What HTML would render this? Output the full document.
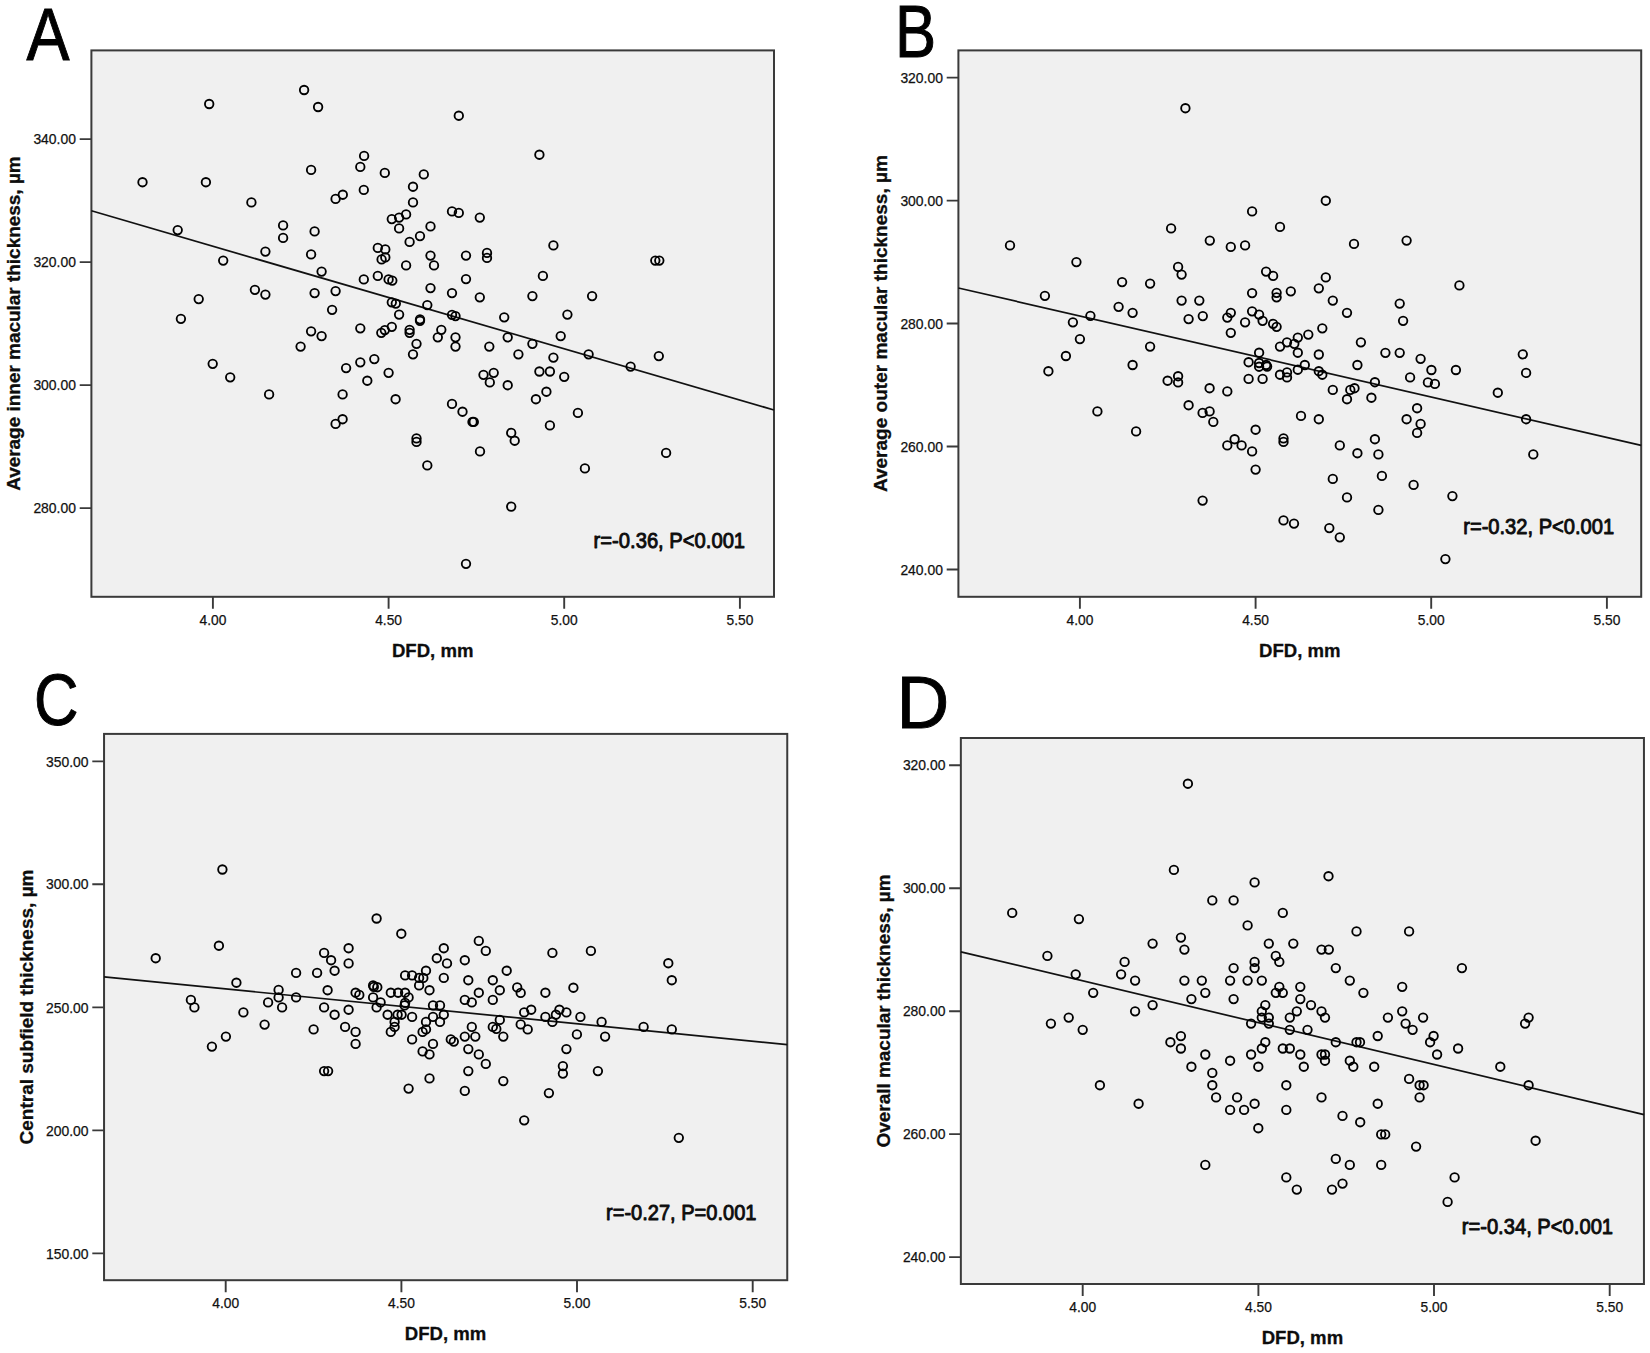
<!DOCTYPE html>
<html lang="en">
<head>
<meta charset="utf-8">
<title>DFD vs macular thickness scatter plots</title>
<style>
html,body{margin:0;padding:0;background:#fff;}
body{width:1650px;height:1353px;overflow:hidden;}
svg{display:block;}
text{font-family:"Liberation Sans", Arial, Helvetica, sans-serif;fill:#1a1a1a;}
.tk{font-size:14.6px;fill:#111;stroke:#111;stroke-width:0.25px;}
.ax{font-size:19.2px;font-weight:bold;fill:#0d0d0d;stroke:#0d0d0d;stroke-width:0.3px;}
.rr{font-size:22.6px;fill:#0d0d0d;stroke:#0d0d0d;stroke-width:0.95px;stroke-linejoin:round;}
.lt{font-size:100px;fill:#000;stroke:#000;stroke-width:0.9px;}
.pt circle{fill:none;stroke:#000;stroke-width:1.85px;}
.fr{fill:#f0f0f0;stroke:#3a3a3a;stroke-width:2px;}
.tl{stroke:#3a3a3a;stroke-width:1.9px;fill:none;}
.fit{stroke:#111;stroke-width:1.7px;fill:none;}
</style>
</head>
<body>
<svg width="1650" height="1353" viewBox="0 0 1650 1353">
<rect x="0" y="0" width="1650" height="1353" fill="#ffffff"/>

<g id="panelA">
<rect class="fr" x="91.4" y="50.4" width="682.6" height="546.4"/>
<path class="tl" d="M212.9 596.8V608.8M388.6 596.8V608.8M564.2 596.8V608.8M739.9 596.8V608.8M79.7 139.1H91.4M79.7 262.1H91.4M79.7 385.1H91.4M79.7 508.1H91.4"/>
<text class="tk" x="212.9" y="624.6" text-anchor="middle" textLength="26.8" lengthAdjust="spacingAndGlyphs">4.00</text>
<text class="tk" x="388.6" y="624.6" text-anchor="middle" textLength="26.8" lengthAdjust="spacingAndGlyphs">4.50</text>
<text class="tk" x="564.2" y="624.6" text-anchor="middle" textLength="26.8" lengthAdjust="spacingAndGlyphs">5.00</text>
<text class="tk" x="739.9" y="624.6" text-anchor="middle" textLength="26.8" lengthAdjust="spacingAndGlyphs">5.50</text>
<text class="tk" x="75.9" y="144.2" text-anchor="end" textLength="42.5" lengthAdjust="spacingAndGlyphs">340.00</text>
<text class="tk" x="75.9" y="267.2" text-anchor="end" textLength="42.5" lengthAdjust="spacingAndGlyphs">320.00</text>
<text class="tk" x="75.9" y="390.2" text-anchor="end" textLength="42.5" lengthAdjust="spacingAndGlyphs">300.00</text>
<text class="tk" x="75.9" y="513.2" text-anchor="end" textLength="42.5" lengthAdjust="spacingAndGlyphs">280.00</text>
<text class="ax" x="432.7" y="656.6" text-anchor="middle" textLength="81.5" lengthAdjust="spacingAndGlyphs">DFD, mm</text>
<text class="ax" transform="translate(20.4 323.6) rotate(-90)" text-anchor="middle" textLength="334.5" lengthAdjust="spacingAndGlyphs">Average inner macular thickness, µm</text>
<line class="fit" x1="91.4" y1="210.8" x2="774.0" y2="410.0"/>
<g class="pt">
<circle cx="304.1" cy="90.0" r="4.25"/><circle cx="209.2" cy="104.0" r="4.25"/><circle cx="318.1" cy="107.0" r="4.25"/><circle cx="458.8" cy="115.7" r="4.25"/><circle cx="364.1" cy="155.9" r="4.25"/><circle cx="360.3" cy="166.9" r="4.25"/><circle cx="311.1" cy="169.9" r="4.25"/><circle cx="384.8" cy="172.9" r="4.25"/><circle cx="423.8" cy="174.4" r="4.25"/><circle cx="142.5" cy="182.2" r="4.25"/><circle cx="205.9" cy="182.2" r="4.25"/><circle cx="413.0" cy="186.7" r="4.25"/><circle cx="363.8" cy="189.9" r="4.25"/><circle cx="342.8" cy="194.7" r="4.25"/><circle cx="335.6" cy="198.9" r="4.25"/><circle cx="251.4" cy="202.4" r="4.25"/><circle cx="413.0" cy="202.4" r="4.25"/><circle cx="452.0" cy="211.4" r="4.25"/><circle cx="458.8" cy="212.9" r="4.25"/><circle cx="406.1" cy="214.4" r="4.25"/><circle cx="399.1" cy="217.6" r="4.25"/><circle cx="391.8" cy="219.1" r="4.25"/><circle cx="479.8" cy="217.6" r="4.25"/><circle cx="283.1" cy="225.4" r="4.25"/><circle cx="430.5" cy="226.4" r="4.25"/><circle cx="399.1" cy="228.4" r="4.25"/><circle cx="314.6" cy="231.4" r="4.25"/><circle cx="177.7" cy="230.1" r="4.25"/><circle cx="420.0" cy="236.1" r="4.25"/><circle cx="283.1" cy="237.9" r="4.25"/><circle cx="409.6" cy="241.9" r="4.25"/><circle cx="377.8" cy="247.9" r="4.25"/><circle cx="385.3" cy="249.4" r="4.25"/><circle cx="265.4" cy="251.6" r="4.25"/><circle cx="311.1" cy="254.4" r="4.25"/><circle cx="487.0" cy="252.9" r="4.25"/><circle cx="430.5" cy="255.6" r="4.25"/><circle cx="466.0" cy="255.6" r="4.25"/><circle cx="385.3" cy="257.4" r="4.25"/><circle cx="381.6" cy="259.4" r="4.25"/><circle cx="487.0" cy="257.9" r="4.25"/><circle cx="223.2" cy="260.6" r="4.25"/><circle cx="406.1" cy="265.4" r="4.25"/><circle cx="434.0" cy="265.4" r="4.25"/><circle cx="321.6" cy="271.6" r="4.25"/><circle cx="377.8" cy="275.9" r="4.25"/><circle cx="363.8" cy="279.4" r="4.25"/><circle cx="388.6" cy="279.4" r="4.25"/><circle cx="392.3" cy="280.6" r="4.25"/><circle cx="466.0" cy="279.1" r="4.25"/><circle cx="430.5" cy="288.1" r="4.25"/><circle cx="254.9" cy="289.8" r="4.25"/><circle cx="335.6" cy="291.1" r="4.25"/><circle cx="314.6" cy="293.1" r="4.25"/><circle cx="452.0" cy="293.1" r="4.25"/><circle cx="265.4" cy="294.6" r="4.25"/><circle cx="479.8" cy="297.3" r="4.25"/><circle cx="198.7" cy="299.1" r="4.25"/><circle cx="391.8" cy="302.3" r="4.25"/><circle cx="395.8" cy="303.6" r="4.25"/><circle cx="427.3" cy="305.1" r="4.25"/><circle cx="332.1" cy="309.8" r="4.25"/><circle cx="399.1" cy="314.6" r="4.25"/><circle cx="452.0" cy="314.8" r="4.25"/><circle cx="455.5" cy="316.1" r="4.25"/><circle cx="180.9" cy="318.8" r="4.25"/><circle cx="420.0" cy="319.3" r="4.25"/><circle cx="420.0" cy="320.8" r="4.25"/><circle cx="360.3" cy="328.3" r="4.25"/><circle cx="391.8" cy="326.8" r="4.25"/><circle cx="384.8" cy="330.1" r="4.25"/><circle cx="381.3" cy="332.8" r="4.25"/><circle cx="409.6" cy="329.8" r="4.25"/><circle cx="409.6" cy="332.8" r="4.25"/><circle cx="441.3" cy="329.8" r="4.25"/><circle cx="311.1" cy="331.3" r="4.25"/><circle cx="321.6" cy="336.1" r="4.25"/><circle cx="437.8" cy="337.3" r="4.25"/><circle cx="455.5" cy="337.3" r="4.25"/><circle cx="416.5" cy="343.8" r="4.25"/><circle cx="300.6" cy="346.6" r="4.25"/><circle cx="455.5" cy="346.6" r="4.25"/><circle cx="489.3" cy="346.6" r="4.25"/><circle cx="413.0" cy="354.3" r="4.25"/><circle cx="374.3" cy="359.1" r="4.25"/><circle cx="360.3" cy="362.3" r="4.25"/><circle cx="212.7" cy="363.8" r="4.25"/><circle cx="346.1" cy="368.1" r="4.25"/><circle cx="388.6" cy="372.8" r="4.25"/><circle cx="230.2" cy="377.3" r="4.25"/><circle cx="483.5" cy="374.8" r="4.25"/><circle cx="539.4" cy="154.7" r="4.25"/><circle cx="553.4" cy="245.4" r="4.25"/><circle cx="655.3" cy="260.6" r="4.25"/><circle cx="659.3" cy="260.6" r="4.25"/><circle cx="542.9" cy="275.9" r="4.25"/><circle cx="532.4" cy="296.1" r="4.25"/><circle cx="592.1" cy="296.1" r="4.25"/><circle cx="567.4" cy="314.6" r="4.25"/><circle cx="504.2" cy="317.3" r="4.25"/><circle cx="560.7" cy="336.1" r="4.25"/><circle cx="507.7" cy="337.3" r="4.25"/><circle cx="532.4" cy="343.8" r="4.25"/><circle cx="588.6" cy="354.3" r="4.25"/><circle cx="518.4" cy="354.3" r="4.25"/><circle cx="658.8" cy="356.1" r="4.25"/><circle cx="553.4" cy="357.6" r="4.25"/><circle cx="630.6" cy="366.6" r="4.25"/><circle cx="493.7" cy="372.8" r="4.25"/><circle cx="539.4" cy="371.5" r="4.25"/><circle cx="549.9" cy="371.5" r="4.25"/><circle cx="564.2" cy="376.8" r="4.25"/><circle cx="367.3" cy="380.7" r="4.25"/><circle cx="489.8" cy="382.4" r="4.25"/><circle cx="269.1" cy="394.4" r="4.25"/><circle cx="342.6" cy="394.4" r="4.25"/><circle cx="395.6" cy="399.2" r="4.25"/><circle cx="452.0" cy="403.9" r="4.25"/><circle cx="462.5" cy="411.7" r="4.25"/><circle cx="342.6" cy="419.2" r="4.25"/><circle cx="335.6" cy="423.9" r="4.25"/><circle cx="472.5" cy="421.9" r="4.25"/><circle cx="473.8" cy="421.9" r="4.25"/><circle cx="416.5" cy="438.4" r="4.25"/><circle cx="416.5" cy="441.9" r="4.25"/><circle cx="480.0" cy="451.4" r="4.25"/><circle cx="427.3" cy="465.4" r="4.25"/><circle cx="466.0" cy="563.8" r="4.25"/><circle cx="507.7" cy="385.2" r="4.25"/><circle cx="546.4" cy="391.7" r="4.25"/><circle cx="535.9" cy="399.2" r="4.25"/><circle cx="577.9" cy="412.9" r="4.25"/><circle cx="549.9" cy="425.4" r="4.25"/><circle cx="511.2" cy="432.9" r="4.25"/><circle cx="514.7" cy="440.7" r="4.25"/><circle cx="666.1" cy="452.9" r="4.25"/><circle cx="584.9" cy="468.4" r="4.25"/><circle cx="511.2" cy="506.6" r="4.25"/>
</g>
<text class="rr" x="593.6" y="547.5" textLength="151.5" lengthAdjust="spacingAndGlyphs">r=-0.36, P&lt;0.001</text>
<text class="lt" id="letA" transform="translate(26.4 60.0) scale(0.645 0.746)" vector-effect="non-scaling-stroke">A</text>
</g>
<g id="panelB">
<rect class="fr" x="958.4" y="50.4" width="682.8" height="546.4"/>
<path class="tl" d="M1079.9 596.8V608.8M1255.6 596.8V608.8M1431.2 596.8V608.8M1606.9 596.8V608.8M946.7 77.6H958.4M946.7 200.6H958.4M946.7 323.5H958.4M946.7 446.5H958.4M946.7 569.5H958.4"/>
<text class="tk" x="1079.9" y="624.6" text-anchor="middle" textLength="26.8" lengthAdjust="spacingAndGlyphs">4.00</text>
<text class="tk" x="1255.6" y="624.6" text-anchor="middle" textLength="26.8" lengthAdjust="spacingAndGlyphs">4.50</text>
<text class="tk" x="1431.2" y="624.6" text-anchor="middle" textLength="26.8" lengthAdjust="spacingAndGlyphs">5.00</text>
<text class="tk" x="1606.9" y="624.6" text-anchor="middle" textLength="26.8" lengthAdjust="spacingAndGlyphs">5.50</text>
<text class="tk" x="942.9" y="82.7" text-anchor="end" textLength="42.5" lengthAdjust="spacingAndGlyphs">320.00</text>
<text class="tk" x="942.9" y="205.7" text-anchor="end" textLength="42.5" lengthAdjust="spacingAndGlyphs">300.00</text>
<text class="tk" x="942.9" y="328.6" text-anchor="end" textLength="42.5" lengthAdjust="spacingAndGlyphs">280.00</text>
<text class="tk" x="942.9" y="451.6" text-anchor="end" textLength="42.5" lengthAdjust="spacingAndGlyphs">260.00</text>
<text class="tk" x="942.9" y="574.6" text-anchor="end" textLength="42.5" lengthAdjust="spacingAndGlyphs">240.00</text>
<text class="ax" x="1299.8" y="656.6" text-anchor="middle" textLength="81.5" lengthAdjust="spacingAndGlyphs">DFD, mm</text>
<text class="ax" transform="translate(887.4 323.6) rotate(-90)" text-anchor="middle" textLength="337.0" lengthAdjust="spacingAndGlyphs">Average outer macular thickness, µm</text>
<line class="fit" x1="958.4" y1="288.0" x2="1641.2" y2="445.3"/>
<g class="pt">
<circle cx="1185.4" cy="108.2" r="4.25"/><circle cx="1325.8" cy="200.7" r="4.25"/><circle cx="1252.1" cy="211.4" r="4.25"/><circle cx="1280.0" cy="226.9" r="4.25"/><circle cx="1171.1" cy="228.4" r="4.25"/><circle cx="1209.8" cy="240.6" r="4.25"/><circle cx="1010.0" cy="245.4" r="4.25"/><circle cx="1245.1" cy="245.4" r="4.25"/><circle cx="1230.8" cy="246.9" r="4.25"/><circle cx="1354.0" cy="243.9" r="4.25"/><circle cx="1076.4" cy="262.1" r="4.25"/><circle cx="1178.1" cy="266.9" r="4.25"/><circle cx="1181.6" cy="274.6" r="4.25"/><circle cx="1266.1" cy="271.6" r="4.25"/><circle cx="1273.1" cy="275.9" r="4.25"/><circle cx="1325.8" cy="277.4" r="4.25"/><circle cx="1122.1" cy="282.1" r="4.25"/><circle cx="1150.1" cy="283.6" r="4.25"/><circle cx="1318.8" cy="288.3" r="4.25"/><circle cx="1290.8" cy="291.3" r="4.25"/><circle cx="1252.1" cy="293.1" r="4.25"/><circle cx="1276.6" cy="292.8" r="4.25"/><circle cx="1276.6" cy="297.3" r="4.25"/><circle cx="1044.9" cy="295.8" r="4.25"/><circle cx="1181.6" cy="300.6" r="4.25"/><circle cx="1199.3" cy="300.6" r="4.25"/><circle cx="1332.8" cy="300.6" r="4.25"/><circle cx="1118.6" cy="306.8" r="4.25"/><circle cx="1252.1" cy="311.3" r="4.25"/><circle cx="1132.6" cy="312.8" r="4.25"/><circle cx="1230.8" cy="312.8" r="4.25"/><circle cx="1347.0" cy="312.8" r="4.25"/><circle cx="1259.1" cy="314.6" r="4.25"/><circle cx="1090.4" cy="315.8" r="4.25"/><circle cx="1202.8" cy="316.1" r="4.25"/><circle cx="1227.3" cy="317.6" r="4.25"/><circle cx="1188.6" cy="319.1" r="4.25"/><circle cx="1262.6" cy="320.8" r="4.25"/><circle cx="1072.9" cy="322.3" r="4.25"/><circle cx="1245.1" cy="322.3" r="4.25"/><circle cx="1273.1" cy="323.8" r="4.25"/><circle cx="1276.6" cy="326.8" r="4.25"/><circle cx="1322.3" cy="328.3" r="4.25"/><circle cx="1230.8" cy="332.8" r="4.25"/><circle cx="1308.3" cy="334.6" r="4.25"/><circle cx="1297.8" cy="337.6" r="4.25"/><circle cx="1079.9" cy="339.1" r="4.25"/><circle cx="1287.0" cy="342.3" r="4.25"/><circle cx="1294.3" cy="343.8" r="4.25"/><circle cx="1280.0" cy="346.6" r="4.25"/><circle cx="1150.1" cy="346.6" r="4.25"/><circle cx="1406.6" cy="240.6" r="4.25"/><circle cx="1459.4" cy="285.4" r="4.25"/><circle cx="1399.7" cy="303.6" r="4.25"/><circle cx="1403.1" cy="320.8" r="4.25"/><circle cx="1360.9" cy="342.3" r="4.25"/><circle cx="1385.4" cy="352.8" r="4.25"/><circle cx="1399.7" cy="352.8" r="4.25"/><circle cx="1522.8" cy="354.3" r="4.25"/><circle cx="1420.6" cy="358.8" r="4.25"/><circle cx="1259.1" cy="352.7" r="4.25"/><circle cx="1297.8" cy="352.7" r="4.25"/><circle cx="1318.8" cy="354.5" r="4.25"/><circle cx="1065.9" cy="356.0" r="4.25"/><circle cx="1248.6" cy="362.2" r="4.25"/><circle cx="1259.1" cy="363.0" r="4.25"/><circle cx="1259.1" cy="366.7" r="4.25"/><circle cx="1266.1" cy="365.0" r="4.25"/><circle cx="1267.1" cy="366.5" r="4.25"/><circle cx="1304.8" cy="365.0" r="4.25"/><circle cx="1132.6" cy="365.0" r="4.25"/><circle cx="1297.8" cy="369.7" r="4.25"/><circle cx="1048.4" cy="371.2" r="4.25"/><circle cx="1318.8" cy="371.2" r="4.25"/><circle cx="1322.3" cy="374.7" r="4.25"/><circle cx="1287.0" cy="372.4" r="4.25"/><circle cx="1280.0" cy="374.7" r="4.25"/><circle cx="1287.0" cy="377.4" r="4.25"/><circle cx="1178.1" cy="376.2" r="4.25"/><circle cx="1248.6" cy="378.9" r="4.25"/><circle cx="1262.6" cy="378.9" r="4.25"/><circle cx="1167.6" cy="380.7" r="4.25"/><circle cx="1178.1" cy="382.4" r="4.25"/><circle cx="1209.6" cy="388.2" r="4.25"/><circle cx="1227.3" cy="391.4" r="4.25"/><circle cx="1332.8" cy="389.9" r="4.25"/><circle cx="1350.3" cy="389.9" r="4.25"/><circle cx="1354.5" cy="388.2" r="4.25"/><circle cx="1347.0" cy="399.2" r="4.25"/><circle cx="1188.6" cy="405.2" r="4.25"/><circle cx="1209.6" cy="411.4" r="4.25"/><circle cx="1202.6" cy="412.9" r="4.25"/><circle cx="1097.4" cy="411.4" r="4.25"/><circle cx="1301.0" cy="415.9" r="4.25"/><circle cx="1318.8" cy="419.2" r="4.25"/><circle cx="1213.3" cy="421.9" r="4.25"/><circle cx="1255.6" cy="429.7" r="4.25"/><circle cx="1136.1" cy="431.4" r="4.25"/><circle cx="1234.6" cy="439.2" r="4.25"/><circle cx="1283.5" cy="438.4" r="4.25"/><circle cx="1283.5" cy="441.9" r="4.25"/><circle cx="1227.3" cy="445.4" r="4.25"/><circle cx="1241.6" cy="445.4" r="4.25"/><circle cx="1339.8" cy="445.4" r="4.25"/><circle cx="1252.1" cy="451.4" r="4.25"/><circle cx="1255.6" cy="469.6" r="4.25"/><circle cx="1332.8" cy="478.9" r="4.25"/><circle cx="1347.0" cy="497.4" r="4.25"/><circle cx="1202.6" cy="500.6" r="4.25"/><circle cx="1283.5" cy="520.4" r="4.25"/><circle cx="1294.0" cy="523.6" r="4.25"/><circle cx="1329.3" cy="528.1" r="4.25"/><circle cx="1339.8" cy="537.3" r="4.25"/><circle cx="1357.4" cy="365.0" r="4.25"/><circle cx="1431.4" cy="370.0" r="4.25"/><circle cx="1455.9" cy="370.0" r="4.25"/><circle cx="1526.1" cy="372.9" r="4.25"/><circle cx="1410.1" cy="377.4" r="4.25"/><circle cx="1374.9" cy="382.2" r="4.25"/><circle cx="1427.9" cy="382.4" r="4.25"/><circle cx="1434.9" cy="383.9" r="4.25"/><circle cx="1497.8" cy="392.7" r="4.25"/><circle cx="1371.4" cy="397.7" r="4.25"/><circle cx="1417.1" cy="408.2" r="4.25"/><circle cx="1406.6" cy="419.2" r="4.25"/><circle cx="1526.1" cy="419.2" r="4.25"/><circle cx="1420.6" cy="423.9" r="4.25"/><circle cx="1417.1" cy="432.9" r="4.25"/><circle cx="1374.9" cy="439.2" r="4.25"/><circle cx="1357.4" cy="453.2" r="4.25"/><circle cx="1378.4" cy="454.4" r="4.25"/><circle cx="1533.3" cy="454.4" r="4.25"/><circle cx="1381.9" cy="475.9" r="4.25"/><circle cx="1413.6" cy="484.9" r="4.25"/><circle cx="1452.4" cy="496.1" r="4.25"/><circle cx="1378.4" cy="509.9" r="4.25"/><circle cx="1445.4" cy="559.1" r="4.25"/>
</g>
<text class="rr" x="1463.2" y="533.5" textLength="151.0" lengthAdjust="spacingAndGlyphs">r=-0.32, P&lt;0.001</text>
<text class="lt" id="letB" transform="translate(895.1 57.0) scale(0.617 0.739)" vector-effect="non-scaling-stroke">B</text>
</g>
<g id="panelC">
<rect class="fr" x="104.05" y="733.9" width="683.2" height="546.3"/>
<path class="tl" d="M225.7 1280.2V1292.2M401.4 1280.2V1292.2M577.0 1280.2V1292.2M752.7 1280.2V1292.2M92.3 761.4H104.05M92.3 884.2H104.05M92.3 1007.4H104.05M92.3 1130.4H104.05M92.3 1253.4H104.05"/>
<text class="tk" x="225.7" y="1308.0" text-anchor="middle" textLength="26.8" lengthAdjust="spacingAndGlyphs">4.00</text>
<text class="tk" x="401.4" y="1308.0" text-anchor="middle" textLength="26.8" lengthAdjust="spacingAndGlyphs">4.50</text>
<text class="tk" x="577.0" y="1308.0" text-anchor="middle" textLength="26.8" lengthAdjust="spacingAndGlyphs">5.00</text>
<text class="tk" x="752.7" y="1308.0" text-anchor="middle" textLength="26.8" lengthAdjust="spacingAndGlyphs">5.50</text>
<text class="tk" x="88.5" y="766.5" text-anchor="end" textLength="42.5" lengthAdjust="spacingAndGlyphs">350.00</text>
<text class="tk" x="88.5" y="889.3" text-anchor="end" textLength="42.5" lengthAdjust="spacingAndGlyphs">300.00</text>
<text class="tk" x="88.5" y="1012.5" text-anchor="end" textLength="42.5" lengthAdjust="spacingAndGlyphs">250.00</text>
<text class="tk" x="88.5" y="1135.5" text-anchor="end" textLength="42.5" lengthAdjust="spacingAndGlyphs">200.00</text>
<text class="tk" x="88.5" y="1258.5" text-anchor="end" textLength="42.5" lengthAdjust="spacingAndGlyphs">150.00</text>
<text class="ax" x="445.6" y="1340.0" text-anchor="middle" textLength="81.5" lengthAdjust="spacingAndGlyphs">DFD, mm</text>
<text class="ax" transform="translate(33.0 1007.0) rotate(-90)" text-anchor="middle" textLength="275.0" lengthAdjust="spacingAndGlyphs">Central subfield thickness, µm</text>
<line class="fit" x1="104.05" y1="976.9" x2="787.2" y2="1044.6"/>
<g class="pt">
<circle cx="222.4" cy="869.5" r="4.25"/><circle cx="376.6" cy="918.5" r="4.25"/><circle cx="401.3" cy="933.7" r="4.25"/><circle cx="478.8" cy="940.9" r="4.25"/><circle cx="218.9" cy="945.7" r="4.25"/><circle cx="348.6" cy="948.2" r="4.25"/><circle cx="443.8" cy="948.2" r="4.25"/><circle cx="485.8" cy="950.9" r="4.25"/><circle cx="324.1" cy="952.9" r="4.25"/><circle cx="155.7" cy="958.2" r="4.25"/><circle cx="436.8" cy="958.2" r="4.25"/><circle cx="331.1" cy="960.2" r="4.25"/><circle cx="464.8" cy="960.2" r="4.25"/><circle cx="348.6" cy="963.4" r="4.25"/><circle cx="447.0" cy="963.4" r="4.25"/><circle cx="334.6" cy="970.7" r="4.25"/><circle cx="426.0" cy="970.7" r="4.25"/><circle cx="296.1" cy="972.9" r="4.25"/><circle cx="317.1" cy="972.9" r="4.25"/><circle cx="405.1" cy="975.4" r="4.25"/><circle cx="412.1" cy="975.4" r="4.25"/><circle cx="419.1" cy="977.9" r="4.25"/><circle cx="423.3" cy="977.9" r="4.25"/><circle cx="443.8" cy="977.9" r="4.25"/><circle cx="468.3" cy="980.2" r="4.25"/><circle cx="492.8" cy="980.2" r="4.25"/><circle cx="236.4" cy="982.7" r="4.25"/><circle cx="419.1" cy="985.4" r="4.25"/><circle cx="373.1" cy="985.4" r="4.25"/><circle cx="373.8" cy="986.9" r="4.25"/><circle cx="377.3" cy="987.2" r="4.25"/><circle cx="278.6" cy="989.9" r="4.25"/><circle cx="327.6" cy="990.2" r="4.25"/><circle cx="429.5" cy="990.2" r="4.25"/><circle cx="499.8" cy="990.2" r="4.25"/><circle cx="355.6" cy="992.7" r="4.25"/><circle cx="359.3" cy="994.9" r="4.25"/><circle cx="390.8" cy="992.7" r="4.25"/><circle cx="398.1" cy="992.7" r="4.25"/><circle cx="405.1" cy="992.7" r="4.25"/><circle cx="478.8" cy="992.7" r="4.25"/><circle cx="408.6" cy="997.4" r="4.25"/><circle cx="278.6" cy="997.4" r="4.25"/><circle cx="296.1" cy="997.4" r="4.25"/><circle cx="373.1" cy="997.4" r="4.25"/><circle cx="190.9" cy="999.9" r="4.25"/><circle cx="464.8" cy="999.9" r="4.25"/><circle cx="492.8" cy="999.9" r="4.25"/><circle cx="268.1" cy="1002.4" r="4.25"/><circle cx="380.6" cy="1002.4" r="4.25"/><circle cx="471.8" cy="1002.4" r="4.25"/><circle cx="405.1" cy="1002.9" r="4.25"/><circle cx="404.6" cy="1005.4" r="4.25"/><circle cx="433.0" cy="1005.4" r="4.25"/><circle cx="440.0" cy="1005.4" r="4.25"/><circle cx="194.4" cy="1007.4" r="4.25"/><circle cx="282.1" cy="1007.4" r="4.25"/><circle cx="324.1" cy="1007.4" r="4.25"/><circle cx="376.6" cy="1007.4" r="4.25"/><circle cx="348.6" cy="1009.7" r="4.25"/><circle cx="243.4" cy="1012.4" r="4.25"/><circle cx="334.6" cy="1014.7" r="4.25"/><circle cx="387.6" cy="1014.7" r="4.25"/><circle cx="397.6" cy="1014.7" r="4.25"/><circle cx="401.6" cy="1014.7" r="4.25"/><circle cx="412.1" cy="1016.9" r="4.25"/><circle cx="433.0" cy="1016.9" r="4.25"/><circle cx="443.8" cy="1014.7" r="4.25"/><circle cx="499.8" cy="1019.9" r="4.25"/><circle cx="426.0" cy="1021.9" r="4.25"/><circle cx="440.0" cy="1021.9" r="4.25"/><circle cx="394.6" cy="1021.9" r="4.25"/><circle cx="264.6" cy="1024.6" r="4.25"/><circle cx="345.1" cy="1026.9" r="4.25"/><circle cx="394.6" cy="1026.9" r="4.25"/><circle cx="471.8" cy="1026.9" r="4.25"/><circle cx="492.8" cy="1026.9" r="4.25"/><circle cx="496.3" cy="1028.9" r="4.25"/><circle cx="313.6" cy="1029.4" r="4.25"/><circle cx="426.0" cy="1029.4" r="4.25"/><circle cx="422.6" cy="1031.9" r="4.25"/><circle cx="355.6" cy="1031.9" r="4.25"/><circle cx="390.8" cy="1031.9" r="4.25"/><circle cx="225.9" cy="1036.6" r="4.25"/><circle cx="464.8" cy="1036.6" r="4.25"/><circle cx="475.3" cy="1036.6" r="4.25"/><circle cx="503.3" cy="1036.6" r="4.25"/><circle cx="412.1" cy="1039.4" r="4.25"/><circle cx="450.8" cy="1039.4" r="4.25"/><circle cx="453.8" cy="1041.6" r="4.25"/><circle cx="355.6" cy="1043.9" r="4.25"/><circle cx="433.0" cy="1043.9" r="4.25"/><circle cx="211.9" cy="1046.6" r="4.25"/><circle cx="468.3" cy="1049.1" r="4.25"/><circle cx="422.6" cy="1051.4" r="4.25"/><circle cx="429.5" cy="1054.4" r="4.25"/><circle cx="478.8" cy="1054.4" r="4.25"/><circle cx="485.8" cy="1063.9" r="4.25"/><circle cx="324.1" cy="1071.1" r="4.25"/><circle cx="328.1" cy="1071.1" r="4.25"/><circle cx="468.3" cy="1071.1" r="4.25"/><circle cx="429.5" cy="1078.4" r="4.25"/><circle cx="503.3" cy="1081.1" r="4.25"/><circle cx="408.6" cy="1088.6" r="4.25"/><circle cx="464.8" cy="1090.9" r="4.25"/><circle cx="552.4" cy="952.9" r="4.25"/><circle cx="590.9" cy="950.9" r="4.25"/><circle cx="668.3" cy="963.2" r="4.25"/><circle cx="506.7" cy="970.7" r="4.25"/><circle cx="671.8" cy="980.2" r="4.25"/><circle cx="517.2" cy="987.4" r="4.25"/><circle cx="520.7" cy="992.9" r="4.25"/><circle cx="545.4" cy="992.7" r="4.25"/><circle cx="573.4" cy="987.7" r="4.25"/><circle cx="524.2" cy="1012.4" r="4.25"/><circle cx="531.2" cy="1009.7" r="4.25"/><circle cx="559.4" cy="1009.7" r="4.25"/><circle cx="566.4" cy="1012.4" r="4.25"/><circle cx="555.9" cy="1014.7" r="4.25"/><circle cx="545.4" cy="1016.9" r="4.25"/><circle cx="580.4" cy="1016.9" r="4.25"/><circle cx="552.4" cy="1021.9" r="4.25"/><circle cx="601.6" cy="1021.9" r="4.25"/><circle cx="520.7" cy="1024.4" r="4.25"/><circle cx="527.7" cy="1029.4" r="4.25"/><circle cx="643.6" cy="1026.9" r="4.25"/><circle cx="671.8" cy="1029.4" r="4.25"/><circle cx="576.9" cy="1034.4" r="4.25"/><circle cx="605.1" cy="1036.6" r="4.25"/><circle cx="566.4" cy="1049.1" r="4.25"/><circle cx="562.9" cy="1066.1" r="4.25"/><circle cx="562.9" cy="1073.6" r="4.25"/><circle cx="597.9" cy="1071.1" r="4.25"/><circle cx="548.9" cy="1093.1" r="4.25"/><circle cx="524.2" cy="1120.3" r="4.25"/><circle cx="678.8" cy="1137.8" r="4.25"/>
</g>
<text class="rr" x="606.0" y="1220.2" textLength="150.5" lengthAdjust="spacingAndGlyphs">r=-0.27, P=0.001</text>
<text class="lt" id="letC" transform="translate(33.9 724.8) scale(0.616 0.731)" vector-effect="non-scaling-stroke">C</text>
</g>
<g id="panelD">
<rect class="fr" x="960.85" y="738.0" width="683.1" height="546.0"/>
<path class="tl" d="M1082.7 1284.0V1296.0M1258.4 1284.0V1296.0M1434.0 1284.0V1296.0M1609.7 1284.0V1296.0M949.1 765.3H960.85M949.1 888.2H960.85M949.1 1011.2H960.85M949.1 1134.1H960.85M949.1 1257.1H960.85"/>
<text class="tk" x="1082.7" y="1311.8" text-anchor="middle" textLength="26.8" lengthAdjust="spacingAndGlyphs">4.00</text>
<text class="tk" x="1258.4" y="1311.8" text-anchor="middle" textLength="26.8" lengthAdjust="spacingAndGlyphs">4.50</text>
<text class="tk" x="1434.0" y="1311.8" text-anchor="middle" textLength="26.8" lengthAdjust="spacingAndGlyphs">5.00</text>
<text class="tk" x="1609.7" y="1311.8" text-anchor="middle" textLength="26.8" lengthAdjust="spacingAndGlyphs">5.50</text>
<text class="tk" x="945.4" y="770.4" text-anchor="end" textLength="42.5" lengthAdjust="spacingAndGlyphs">320.00</text>
<text class="tk" x="945.4" y="893.3" text-anchor="end" textLength="42.5" lengthAdjust="spacingAndGlyphs">300.00</text>
<text class="tk" x="945.4" y="1016.3" text-anchor="end" textLength="42.5" lengthAdjust="spacingAndGlyphs">280.00</text>
<text class="tk" x="945.4" y="1139.2" text-anchor="end" textLength="42.5" lengthAdjust="spacingAndGlyphs">260.00</text>
<text class="tk" x="945.4" y="1262.2" text-anchor="end" textLength="42.5" lengthAdjust="spacingAndGlyphs">240.00</text>
<text class="ax" x="1302.4" y="1343.8" text-anchor="middle" textLength="81.5" lengthAdjust="spacingAndGlyphs">DFD, mm</text>
<text class="ax" transform="translate(889.9 1011.0) rotate(-90)" text-anchor="middle" textLength="273.0" lengthAdjust="spacingAndGlyphs">Overall macular thickness, µm</text>
<line class="fit" x1="960.85" y1="951.8" x2="1644.0" y2="1114.6"/>
<g class="pt">
<circle cx="1187.9" cy="783.7" r="4.25"/><circle cx="1173.9" cy="869.9" r="4.25"/><circle cx="1328.5" cy="876.2" r="4.25"/><circle cx="1254.6" cy="882.4" r="4.25"/><circle cx="1212.3" cy="900.4" r="4.25"/><circle cx="1233.6" cy="900.4" r="4.25"/><circle cx="1012.2" cy="912.9" r="4.25"/><circle cx="1282.8" cy="912.9" r="4.25"/><circle cx="1078.9" cy="919.1" r="4.25"/><circle cx="1247.6" cy="925.4" r="4.25"/><circle cx="1356.5" cy="931.4" r="4.25"/><circle cx="1180.9" cy="937.6" r="4.25"/><circle cx="1152.6" cy="943.6" r="4.25"/><circle cx="1268.8" cy="943.6" r="4.25"/><circle cx="1293.3" cy="943.6" r="4.25"/><circle cx="1184.4" cy="949.6" r="4.25"/><circle cx="1321.5" cy="949.6" r="4.25"/><circle cx="1328.8" cy="949.6" r="4.25"/><circle cx="1047.4" cy="955.9" r="4.25"/><circle cx="1275.8" cy="955.9" r="4.25"/><circle cx="1124.6" cy="961.9" r="4.25"/><circle cx="1254.6" cy="961.9" r="4.25"/><circle cx="1279.3" cy="961.9" r="4.25"/><circle cx="1233.6" cy="968.1" r="4.25"/><circle cx="1254.6" cy="968.1" r="4.25"/><circle cx="1335.8" cy="968.1" r="4.25"/><circle cx="1075.7" cy="974.3" r="4.25"/><circle cx="1121.1" cy="974.3" r="4.25"/><circle cx="1135.1" cy="980.6" r="4.25"/><circle cx="1184.4" cy="980.6" r="4.25"/><circle cx="1201.8" cy="980.6" r="4.25"/><circle cx="1230.1" cy="980.6" r="4.25"/><circle cx="1247.6" cy="980.6" r="4.25"/><circle cx="1261.8" cy="980.6" r="4.25"/><circle cx="1349.8" cy="980.6" r="4.25"/><circle cx="1279.3" cy="986.8" r="4.25"/><circle cx="1300.3" cy="986.8" r="4.25"/><circle cx="1093.2" cy="992.8" r="4.25"/><circle cx="1205.3" cy="992.8" r="4.25"/><circle cx="1275.8" cy="992.8" r="4.25"/><circle cx="1282.8" cy="992.8" r="4.25"/><circle cx="1191.4" cy="999.1" r="4.25"/><circle cx="1233.6" cy="999.1" r="4.25"/><circle cx="1300.3" cy="999.1" r="4.25"/><circle cx="1152.6" cy="1005.1" r="4.25"/><circle cx="1265.3" cy="1005.1" r="4.25"/><circle cx="1311.0" cy="1005.1" r="4.25"/><circle cx="1135.1" cy="1011.3" r="4.25"/><circle cx="1261.8" cy="1011.3" r="4.25"/><circle cx="1296.8" cy="1011.3" r="4.25"/><circle cx="1321.5" cy="1011.3" r="4.25"/><circle cx="1068.7" cy="1017.6" r="4.25"/><circle cx="1261.8" cy="1017.6" r="4.25"/><circle cx="1268.8" cy="1017.6" r="4.25"/><circle cx="1289.8" cy="1017.6" r="4.25"/><circle cx="1325.0" cy="1017.6" r="4.25"/><circle cx="1050.9" cy="1023.6" r="4.25"/><circle cx="1251.1" cy="1023.6" r="4.25"/><circle cx="1268.8" cy="1023.6" r="4.25"/><circle cx="1082.7" cy="1029.8" r="4.25"/><circle cx="1289.8" cy="1029.8" r="4.25"/><circle cx="1307.5" cy="1029.8" r="4.25"/><circle cx="1180.9" cy="1036.1" r="4.25"/><circle cx="1409.1" cy="931.4" r="4.25"/><circle cx="1461.9" cy="968.1" r="4.25"/><circle cx="1402.2" cy="986.8" r="4.25"/><circle cx="1363.4" cy="992.8" r="4.25"/><circle cx="1402.2" cy="1011.3" r="4.25"/><circle cx="1387.9" cy="1017.6" r="4.25"/><circle cx="1423.1" cy="1017.6" r="4.25"/><circle cx="1528.6" cy="1017.6" r="4.25"/><circle cx="1405.6" cy="1023.6" r="4.25"/><circle cx="1525.1" cy="1023.6" r="4.25"/><circle cx="1412.6" cy="1029.8" r="4.25"/><circle cx="1170.4" cy="1042.2" r="4.25"/><circle cx="1265.3" cy="1042.2" r="4.25"/><circle cx="1335.8" cy="1042.2" r="4.25"/><circle cx="1356.5" cy="1042.2" r="4.25"/><circle cx="1360.0" cy="1042.2" r="4.25"/><circle cx="1180.9" cy="1048.5" r="4.25"/><circle cx="1261.8" cy="1048.5" r="4.25"/><circle cx="1282.8" cy="1048.5" r="4.25"/><circle cx="1289.8" cy="1048.5" r="4.25"/><circle cx="1205.3" cy="1054.5" r="4.25"/><circle cx="1251.1" cy="1054.5" r="4.25"/><circle cx="1300.3" cy="1054.5" r="4.25"/><circle cx="1321.5" cy="1054.5" r="4.25"/><circle cx="1325.0" cy="1054.5" r="4.25"/><circle cx="1230.1" cy="1060.7" r="4.25"/><circle cx="1325.0" cy="1060.7" r="4.25"/><circle cx="1349.8" cy="1060.7" r="4.25"/><circle cx="1191.4" cy="1066.7" r="4.25"/><circle cx="1258.3" cy="1066.7" r="4.25"/><circle cx="1303.8" cy="1066.7" r="4.25"/><circle cx="1353.3" cy="1066.7" r="4.25"/><circle cx="1212.3" cy="1072.9" r="4.25"/><circle cx="1099.9" cy="1085.2" r="4.25"/><circle cx="1212.3" cy="1085.2" r="4.25"/><circle cx="1286.3" cy="1085.2" r="4.25"/><circle cx="1216.1" cy="1097.4" r="4.25"/><circle cx="1237.1" cy="1097.4" r="4.25"/><circle cx="1321.5" cy="1097.4" r="4.25"/><circle cx="1138.6" cy="1103.7" r="4.25"/><circle cx="1254.6" cy="1103.7" r="4.25"/><circle cx="1230.1" cy="1109.9" r="4.25"/><circle cx="1244.1" cy="1109.9" r="4.25"/><circle cx="1286.3" cy="1109.9" r="4.25"/><circle cx="1342.5" cy="1115.9" r="4.25"/><circle cx="1258.3" cy="1128.2" r="4.25"/><circle cx="1335.8" cy="1158.9" r="4.25"/><circle cx="1205.3" cy="1164.9" r="4.25"/><circle cx="1349.8" cy="1164.9" r="4.25"/><circle cx="1286.3" cy="1177.4" r="4.25"/><circle cx="1342.5" cy="1183.6" r="4.25"/><circle cx="1296.8" cy="1189.6" r="4.25"/><circle cx="1332.0" cy="1189.6" r="4.25"/><circle cx="1377.7" cy="1036.0" r="4.25"/><circle cx="1433.6" cy="1036.0" r="4.25"/><circle cx="1430.1" cy="1042.2" r="4.25"/><circle cx="1458.1" cy="1048.5" r="4.25"/><circle cx="1437.1" cy="1054.5" r="4.25"/><circle cx="1374.2" cy="1066.7" r="4.25"/><circle cx="1500.3" cy="1066.7" r="4.25"/><circle cx="1409.1" cy="1078.9" r="4.25"/><circle cx="1419.6" cy="1085.2" r="4.25"/><circle cx="1423.6" cy="1085.2" r="4.25"/><circle cx="1528.6" cy="1085.2" r="4.25"/><circle cx="1419.6" cy="1097.4" r="4.25"/><circle cx="1377.7" cy="1103.7" r="4.25"/><circle cx="1360.2" cy="1122.2" r="4.25"/><circle cx="1381.2" cy="1134.4" r="4.25"/><circle cx="1385.2" cy="1134.4" r="4.25"/><circle cx="1535.6" cy="1140.7" r="4.25"/><circle cx="1416.1" cy="1146.6" r="4.25"/><circle cx="1381.2" cy="1164.9" r="4.25"/><circle cx="1454.6" cy="1177.4" r="4.25"/><circle cx="1447.6" cy="1201.9" r="4.25"/>
</g>
<text class="rr" x="1461.7" y="1234.3" textLength="151.4" lengthAdjust="spacingAndGlyphs">r=-0.34, P&lt;0.001</text>
<text class="lt" id="letD" transform="translate(896.6 727.9) scale(0.7305 0.738)" vector-effect="non-scaling-stroke">D</text>
</g>
</svg>
</body>
</html>
